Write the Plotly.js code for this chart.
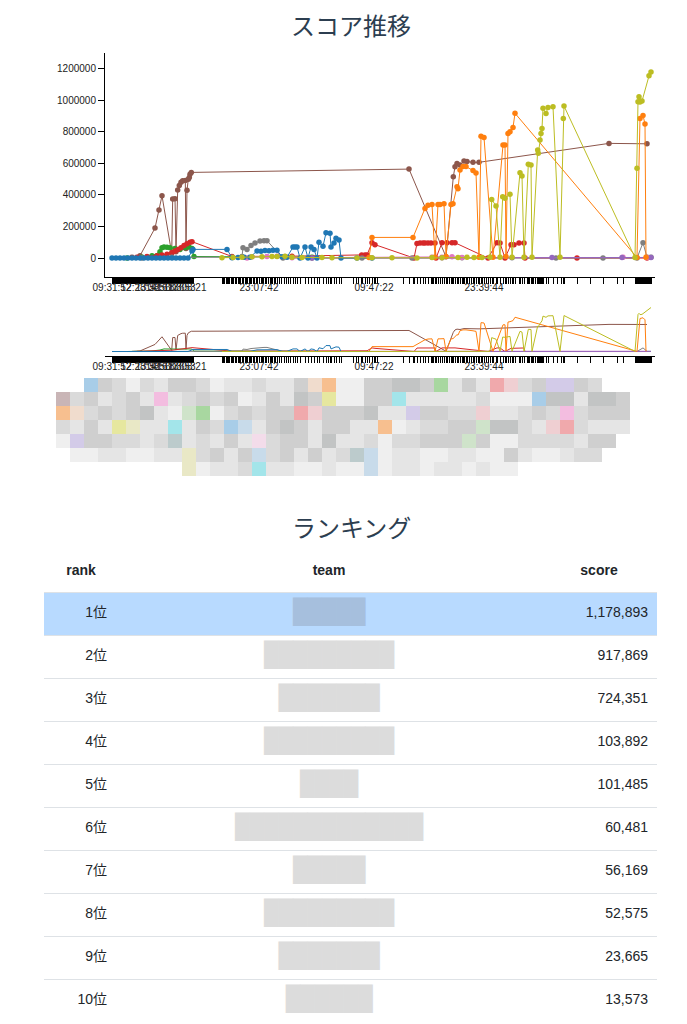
<!DOCTYPE html>
<html>
<head>
<meta charset="utf-8">
<script src="https://cdn.plot.ly/plotly-3.0.1.min.js"></script>
<style>
html,body{margin:0;padding:0;background:#fff;}
#chart{width:687px;height:1024px;}
</style>
</head>
<body>
<div id="chart"></div>
<script>
// ---------------- DATA (hours since contest start, scores) ----------------
const brownHours  = [2.0,2.8,4.3,4.7,5.0,5.97,6.07,6.3,6.4,6.57,6.73,6.9,7.07,7.33,7.4,7.5,7.63,7.73,7.8,7.93,29.7,33.4,34.13,34.3,34.5,34.8,35.2,35.5,36.1,36.7,49.7,53.5];
const brownScores = [5000,15000,190000,304000,395000,30000,374000,376000,40000,431000,460000,480000,490000,491000,60000,430000,500000,510000,532000,543000,564000,8000,515000,579000,600000,590000,615000,612000,607000,607000,727000,724351];

const greenHours  = [1.5,3.0,4.0,4.8,5.0,5.2,5.5,5.8,6.3,6.8,7.3,7.7,8.0,8.2,20.0];
const greenScores = [0,5000,15000,40000,65000,70000,68000,65000,60000,55000,65000,70000,60000,10000,5000];

const redHours  = [2.5,3.5,4.5,5.0,5.5,6.0,6.3,6.6,6.9,7.2,7.5,7.8,8.0,12.0,18.0,24.97,25.3,25.5,26.0,26.3,30.2,30.5,30.8,31.1,31.3,31.6,31.9,32.3,32.4,33.0,33.5,34.0,34.3,37.6,38.5,38.8,39.3,39.9,40.2,40.7,41.2,41.3,46.5,53.5];
const redScores = [5000,10000,15000,20000,25000,35000,45000,55000,65000,80000,90000,100000,103892,10000,12000,20000,20000,20000,97000,85000,0,93000,95000,95000,95000,95000,95000,95000,0,97000,97000,97000,97000,0,97000,95000,0,85000,85000,95000,95000,0,0,0];

const greyHours  = [3.0,6.0,12.0,13.0,13.1,13.5,13.9,14.3,14.8,15.2,15.5,17.1,20.0,25.0,30.0,35.0,40.0,44.4,49.1,52.5,53.1,53.5,53.9];
const greyScores = [0,5000,5000,10000,65000,55000,80000,95000,108000,110000,110000,0,0,0,0,2000,2000,0,0,0,97000,5000,5000];

const pinkHours  = [13.5,14.0,15.5,16.5,17.3,18.0,32.0,33.0,34.0,35.0,51.1,53.5];
const pinkScores = [0,8000,10000,12000,10000,2000,5000,5000,8000,3000,5000,3000];

const purpleHours  = [20.0,33.0,44.0,51.0,53.9];
const purpleScores = [0,2000,3000,4000,4000];

const blueHours  = [0,0.4,0.8,1.2,1.6,2.0,2.4,2.8,3.2,3.6,4.0,4.4,4.8,5.2,5.6,6.0,6.4,6.8,7.2,7.6,8.0,8.1,11.5,12.0,12.6,13.2,13.8,14.5,14.9,15.3,15.7,16.1,16.5,17.0,17.5,18.1,18.3,18.5,18.8,19.3,19.6,19.9,20.2,20.5,20.7,21.1,21.4,21.8,21.9,22.2,22.4,22.7,22.9,24.5,26.0];
const blueScores = [0,0,0,0,0,0,0,0,0,0,0,0,0,0,0,0,0,0,0,0,45000,55000,55000,2000,3000,5000,5000,45000,43000,48000,47000,50000,50000,8000,5000,70000,70000,70000,0,70000,0,70000,55000,0,100000,75000,160000,158000,70000,95000,125000,115000,0,0,0];

const orangeHours  = [25.7,26.0,30.1,31.3,31.6,32.0,32.3,32.6,32.8,33.2,33.4,33.9,34.1,34.5,34.6,34.8,35.1,35.4,36.1,36.4,36.7,36.9,37.2,38.1,39.1,39.3,39.4,39.6,39.8,40.1,40.3,52.5,52.8,53.1,53.3,53.4];
const orangeScores = [3000,131000,131000,315000,335000,340000,5000,340000,340000,345000,10000,340000,345000,452000,440000,558000,580000,580000,555000,540000,5000,773000,765000,5000,716000,716000,10000,790000,800000,828000,917869,3000,885000,904000,850000,5000];

const oliveHours  = [11.0,12.1,13.0,14.0,15.0,16.0,16.5,17.3,18.0,19.0,21.0,22.0,24.5,26.0,28.0,30.5,32.0,33.0,34.6,35.5,36.2,37.0,37.8,37.97,38.4,38.8,39.07,39.3,39.8,40.0,40.8,41.0,41.2,41.63,41.9,42.0,42.57,42.63,42.8,42.9,43.0,43.1,43.4,43.6,44.1,44.8,45.13,45.2,52.3,52.5,52.6,52.7,52.8,53.0,53.7,53.9];
const oliveScores = [2000,3000,5000,8000,8000,10000,10000,12000,5000,3000,3000,2000,0,2000,2000,0,3000,2000,3000,5000,3000,3000,5000,372000,330000,5000,389000,380000,405000,5000,541000,520000,5000,594000,590000,5000,685000,665000,748000,790000,822000,949000,917000,955000,960000,5000,885000,964000,3000,569000,991000,1023000,990000,995000,1155000,1178893];

// submission times (x-axis ticks, one per submission)
const submitHours = [0,0.1,0.2,0.3,0.4,0.5,0.6,0.7,0.8,0.9,1.0,1.1,1.2,1.3,1.4,1.5,1.6,1.7,1.8,1.9,2.0,2.1,2.2,2.3,2.4,2.5,2.6,2.7,2.8,2.9,3.0,3.1,3.2,3.3,3.4,3.5,3.6,3.7,3.8,3.9,4.0,4.1,4.2,4.3,4.4,4.5,4.6,4.7,4.8,4.9,5.0,5.1,5.2,5.3,5.4,5.5,5.6,5.7,5.8,5.9,6.0,6.1,6.2,6.3,6.4,6.5,6.6,6.7,6.8,6.9,7.0,7.1,7.2,7.3,7.4,7.5,7.6,7.7,7.8,7.9,8.0,8.1,
 11.0,11.1,11.2,11.4,11.5,11.6,11.7,11.9,12.0,12.1,12.3,12.4,12.6,12.7,12.8,13.0,13.1,13.3,13.4,13.5,13.7,13.8,13.9,14.1,14.2,14.4,14.5,14.7,14.9,15.0,15.1,15.3,15.4,15.6,15.8,15.9,16.0,16.2,16.3,16.5,16.7,16.9,17.2,17.4,17.6,17.8,18.1,18.3,18.5,
 18.8,19.3,19.6,19.9,20.2,20.5,20.7,21.1,21.4,21.6,21.8,21.9,22.2,22.4,22.7,22.9,
 24.1,24.4,24.6,24.9,25.0,25.3,25.5,25.7,26.0,26.2,26.3,26.5,
 29.1,29.7,30.1,30.2,30.5,30.8,31.1,31.3,31.6,31.9,32.0,32.1,32.3,32.4,32.6,32.8,33.0,33.2,33.4,33.5,33.7,33.9,34.0,34.1,34.3,34.5,34.6,34.8,35.0,35.1,35.2,35.4,35.5,35.7,35.9,36.1,36.2,36.4,36.6,36.7,36.9,37.0,37.2,37.4,37.6,37.8,38.0,38.1,38.4,38.5,38.8,39.1,39.3,39.4,39.6,39.8,40.0,40.1,40.3,40.7,40.8,41.0,41.2,41.5,41.6,41.7,41.9,42.0,42.1,42.3,42.5,42.6,42.7,42.8,42.9,43.0,43.1,43.4,43.6,44.1,44.5,44.9,45.1,45.2,46.5,47.8,49.1,50.5,51.1,52.3,52.4,52.5,52.6,52.7,52.8,52.9,53.0,53.1,53.2,53.3,53.4,53.5,53.6,53.7,53.8,53.9];
const tickLabelHours = [0,2.8,4.3,5.3,6.4,7.5,14.7,26.2,37.2];
const tickLabelTexts = ['09:31:52','12:28:38','13:52:18','14:56:36','16:03:53','17:08:21','23:07:42','09:47:22','23:39:44'];

const yTickValues = [0,200000,400000,600000,800000,1000000,1200000];

// ranking table
const ranks  = [1,2,3,4,5,6,7,8,9,10];
const scores = [1178893,917869,724351,103892,101485,60481,56169,52575,23665,13573];
const teamMaskLengths = [5,9,7,9,4,13,5,9,7,6]; // blurred team names (length of mask)
const tableHeaders = ['rank','team','score'];

// blurred legend mosaic (one char per cell)
const legendRows = [
 "..Bcbebaccbeaabaac"+"oOeeccddc"+"GacaRrbcVVcb"+"..",
 "MbcabcaPabcbceacadcY"+"eeccCaaaaab"+"eeeBddaddc",
 "Oobcbcdaeg"+"GebcbccRrc"+"ccdaaVccbb"+"raabcbPbccc",
 "bacaYyaaCa"+"cbBLacdcac"+"caaOeabbcc"+"gddbarRbaaa",
 "eVccbbabKa"+"bacapbccad"+"aabebbcccg"+"ceebbbbacc.",
 ".eeaaeeaay"+"bcacLbcaca"+"bKLeaaeeaa"+"eecaeeabb..",
 ".........y"+"eaabCaaeea"+"eeLeaaeaae"+"aee........"
];
const mosaicColors = {e:'#efefef',a:'#e5e5e5',b:'#dadada',c:'#cfcfcf',d:'#c2c4c4',B:'#a8cde8',L:'#c8dbea',O:'#f7bf8f',o:'#f0dccd',Y:'#e6e79f',y:'#e9e8c6',G:'#a8d7a0',g:'#cfe3ca',C:'#a3e5ea',R:'#f0a9ac',r:'#efcfd2',P:'#f3bde0',p:'#f3dcea',V:'#d3cbe8',M:'#c9b5b6',K:'#bccbcc'};

// ---------------- LAYOUT HELPERS ----------------
const W = 687, H = 1024;
const fx = v => v / W;
const fy = v => 1 - v / H;
const tickFont = {family:'Liberation Sans, Arial, sans-serif', size:10, color:'#222'};

const labelMap = {};
tickLabelHours.forEach((h,i) => { labelMap[h.toFixed(2)] = tickLabelTexts[i]; });
const allTicks = Array.from(new Set(submitHours.concat(tickLabelHours))).sort((a,b)=>a-b);
const allTickText = allTicks.map(h => labelMap[h.toFixed(2)] || '');

const series = [
 {color:'#8c564b', x:brownHours,  y:brownScores},
 {color:'#2ca02c', x:greenHours,  y:greenScores},
 {color:'#d62728', x:redHours,    y:redScores},
 {color:'#7f7f7f', x:greyHours,   y:greyScores},
 {color:'#e377c2', x:pinkHours,   y:pinkScores},
 {color:'#9467bd', x:purpleHours, y:purpleScores},
 {color:'#1f77b4', x:blueHours,   y:blueScores},
 {color:'#ff7f0e', x:orangeHours, y:orangeScores},
 {color:'#bcbd22', x:oliveHours,  y:oliveScores}
];

const traces = [];
series.forEach(s => traces.push({
  type:'scatter', mode:'lines+markers', x:s.x, y:s.y, xaxis:'x', yaxis:'y',
  line:{color:s.color, width:1}, marker:{color:s.color, size:5.5}, hoverinfo:'skip', showlegend:false
}));
series.forEach(s => traces.push({
  type:'scatter', mode:'lines', x:s.x, y:s.y, xaxis:'x2', yaxis:'y2',
  line:{color:s.color, width:1}, hoverinfo:'skip', showlegend:false
}));

// mosaic heatmap
const keys = Object.keys(mosaicColors);
const nK = keys.length;
const colorscale = [];
keys.forEach((k,i) => { colorscale.push([i/nK, mosaicColors[k]]); colorscale.push([(i+1)/nK, mosaicColors[k]]); });
const nCols = 41;
const z = legendRows.map(r => {
  const row = [];
  for (let i=0;i<nCols;i++){ const ch = r[i] || '.'; const idx = keys.indexOf(ch); row.push(idx < 0 ? null : idx + 0.5); }
  return row;
});
traces.push({type:'heatmap', z:z, xaxis:'x3', yaxis:'y3', colorscale:colorscale, zmin:0, zmax:nK, showscale:false, hoverinfo:'skip', xgap:0, ygap:0});

// ranking table drawn on its own axes: row 0 = header, rows 1..10 = ranks
const colRankRight = 107, colTeamCenter = 329, colScoreRight = 648;
const headerX = [81, 329, 599];
const textFont = 'Liberation Sans, Noto Sans CJK JP, sans-serif';
traces.push({type:'scatter', mode:'text', xaxis:'x4', yaxis:'y4', x:headerX, y:tableHeaders.map(()=>0.03),
  text:tableHeaders.map(t=>'<b>'+t+'</b>'), textposition:'middle center',
  textfont:{family:textFont, size:14, color:'#212529'}, hoverinfo:'skip', showlegend:false});
traces.push({type:'scatter', mode:'text', xaxis:'x4', yaxis:'y4', x:ranks.map(()=>colRankRight), y:ranks,
  text:ranks.map(r => r + '位'), textposition:'middle left',
  textfont:{family:textFont, size:14, color:'#212529'}, hoverinfo:'skip', showlegend:false});
traces.push({type:'scatter', mode:'text', xaxis:'x4', yaxis:'y4', x:ranks.map(()=>colTeamCenter), y:ranks,
  text:teamMaskLengths.map(n => '█'.repeat(n)), textposition:'middle center',
  textfont:{family:'DejaVu Sans Mono', size:24, color:ranks.map(r => r === 1 ? '#a6bfdd' : '#dcdcdc')}, hoverinfo:'skip', showlegend:false});
traces.push({type:'scatter', mode:'text', xaxis:'x4', yaxis:'y4', x:ranks.map(()=>colScoreRight), y:ranks,
  text:scores.map(s => s.toLocaleString('en-US')), textposition:'middle left',
  textfont:{family:textFont, size:14, color:'#212529'}, hoverinfo:'skip', showlegend:false});

const rowBoundaries = [];
for (let k=0;k<=ranks.length+1;k++) rowBoundaries.push(k - 0.5);

const xCommon = {
  range:[-0.7, 54.3], tickmode:'array', tickvals:allTicks, ticktext:allTickText, tickangle:0,
  ticks:'outside', ticklen:6, tickwidth:1, tickcolor:'#000', showline:true, linecolor:'#000', linewidth:1,
  showgrid:false, zeroline:false, tickfont:tickFont, fixedrange:true, ticklabelstandoff:-5
};

const layout = {
  width:W, height:H, margin:{l:0,r:0,t:0,b:0}, paper_bgcolor:'#fff', plot_bgcolor:'rgba(0,0,0,0)',
  showlegend:false, hovermode:false,
  title:{text:'スコア推移', x:351/W, xanchor:'center', y:fy(27), yanchor:'middle',
         font:{family:'Noto Sans CJK JP, sans-serif', size:24, color:'#2c3e50'}},
  xaxis:Object.assign({domain:[fx(105), fx(655)], anchor:'y'}, xCommon),
  yaxis:{domain:[fy(277), fy(53)], range:[-120000,1300000], tickmode:'array', tickvals:yTickValues,
         ticktext:yTickValues.map(v=>String(v)), ticks:'outside', ticklen:6, tickcolor:'#000',
         showline:true, linecolor:'#000', linewidth:1, showgrid:false, zeroline:false, tickfont:tickFont, fixedrange:true},
  xaxis2:Object.assign({domain:[fx(105), fx(655)], anchor:'y2'}, xCommon),
  yaxis2:{domain:[fy(356), fy(303)], range:[-120000,1300000], visible:false, fixedrange:true},
  xaxis3:{domain:[fx(56), fx(630)], range:[-0.5, nCols-0.5], visible:false, anchor:'y3'},
  yaxis3:{domain:[fy(476), fy(378)], range:[legendRows.length-0.5, -0.5], visible:false, anchor:'x3'},
  xaxis4:{domain:[fx(44), fx(657)], range:[44, 657], visible:false, anchor:'y4', fixedrange:true},
  yaxis4:{domain:[fy(1022), fy(549)], range:[ranks.length+0.5, -0.5], anchor:'x4', tickmode:'array', tickvals:rowBoundaries,
          showticklabels:false, ticks:'', showgrid:true, gridcolor:'#dee2e6', gridwidth:1, zeroline:false, showline:false, fixedrange:true},
  annotations:[{text:'ランキング', xref:'paper', yref:'paper', x:351/W, y:fy(526), xanchor:'center', yanchor:'middle',
    showarrow:false, font:{family:'Noto Sans CJK JP, sans-serif', size:24, color:'#2c3e50'}}],
  shapes:[{type:'rect', xref:'paper', yref:'y4', x0:fx(44), x1:fx(657), y0:0.5, y1:1.5, fillcolor:'#b8daff', line:{width:0}, layer:'below'}]
};

Plotly.newPlot('chart', traces, layout, {staticPlot:true, displayModeBar:false});
</script>
</body>
</html>
